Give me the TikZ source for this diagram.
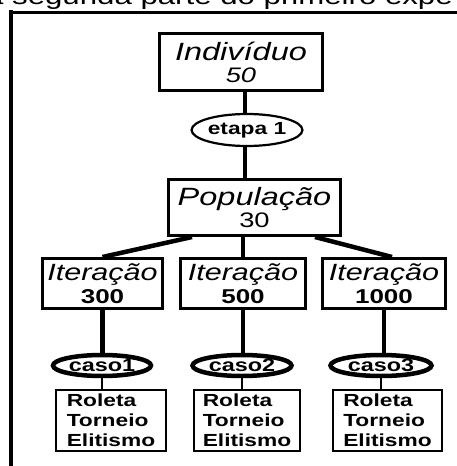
\documentclass[tikz,border=0pt]{standalone}
\usepackage{fontspec}
\setmainfont{Liberation Sans}[FakeStretch=1.3]
\usetikzlibrary{shapes.geometric}

\begin{document}
\begin{tikzpicture}[
    x=1pt, y=-1pt,
    % boxes, ellipses and links
    stagebox/.style={rectangle, draw, line width=3pt, inner sep=0pt, align=center},
    methodbox/.style={rectangle, draw, line width=2.2pt, inner sep=0pt, align=left,
        font=\fontsize{17.5}{20}\selectfont\bfseries},
    phase/.style={ellipse, draw, line width=2.2pt, inner sep=0pt,
        font=\fontsize{17.5}{18}\selectfont\bfseries},
    casenode/.style={ellipse, draw, line width=4.5pt, inner sep=0pt,
        font=\fontsize{18}{18}\selectfont\bfseries},
    titlefont/.style={font=\fontsize{25}{22}\selectfont\itshape},
    iterfont/.style={font=\fontsize{23.5}{23}\selectfont\itshape},
    numfont/.style={font=\fontsize{21}{22}\selectfont},
    link/.style={line width=4.5pt},
    thinlink/.style={line width=2.2pt}
]
\useasboundingbox (0,0) rectangle (457,466);
\clip (0,0) rectangle (457,466);

% caption cut at the top
\node[anchor=base west, inner sep=0pt, font=\fontsize{24}{24}\selectfont] (caption) at (-14,4.5) {a segunda parte do primeiro expe};

% frame
\draw[line width=2.5pt] (10,12.3) -- (457,12.3);
\draw[line width=4.5pt] (11,10) -- (11,466);

% top of the tree
\node[stagebox, titlefont, minimum width=163pt, minimum height=57pt] (ind) at (241,62) {Indivíduo\\{\fontsize{21}{22}\selectfont 50}};
\node[phase, minimum width=104pt, minimum height=32pt] (etapa) at (247,130) {etapa 1};
\node[stagebox, titlefont, minimum width=172pt, minimum height=56pt] (pop) at (254.5,207.5) {População\\{\upshape\fontsize{21}{22}\selectfont 30}};

% iterations
\node[stagebox, iterfont, minimum width=120pt, minimum height=50pt] (it1) at (102.5,283.5) {Iteração\\{\upshape\bfseries\fontsize{20}{22}\selectfont 300}};
\node[stagebox, iterfont, minimum width=125pt, minimum height=50pt] (it2) at (243,283.5) {Iteração\\{\upshape\bfseries\fontsize{20}{22}\selectfont 500}};
\node[stagebox, iterfont, minimum width=123pt, minimum height=50pt] (it3) at (384,283.5) {Iteração\\{\upshape\bfseries\fontsize{20}{22}\selectfont 1000}};

% cases
\node[casenode, minimum width=98pt, minimum height=21pt] (caso1) at (102,365.5) {caso1};
\node[casenode, minimum width=99pt, minimum height=21pt] (caso2) at (242,365.5) {caso2};
\node[casenode, minimum width=101pt, minimum height=21pt] (caso3) at (381,365.5) {caso3};

% selection methods
\node[methodbox, minimum width=110pt, minimum height=61pt] (m1) at (111,420.5) {Roleta\\Torneio\\Elitismo};
\node[methodbox, minimum width=106pt, minimum height=61pt] (m2) at (247,420.5) {Roleta\\Torneio\\Elitismo};
\node[methodbox, minimum width=109pt, minimum height=61pt] (m3) at (387.5,420.5) {Roleta\\Torneio\\Elitismo};

% links
\draw[link] (ind.south -| 245,0) -- (etapa.north -| 245,0);
\draw[link] (etapa.south -| 245,0) -- (pop.north -| 245,0);
\draw[link] ([xshift=25pt]pop.south west) -- (it1.north);
\draw[link] (pop.south -| it2.north) -- (it2.north);
\draw[link] ([xshift=-27pt]pop.south east) -- ([xshift=8pt]it3.north);
\foreach \i in {1,2,3} {
    \draw[link] (it\i.south) -- (it\i.south |- caso\i.north);
    \draw[thinlink] (caso\i.south) -- (caso\i.south |- m\i.north);
}
\end{tikzpicture}
\end{document}
